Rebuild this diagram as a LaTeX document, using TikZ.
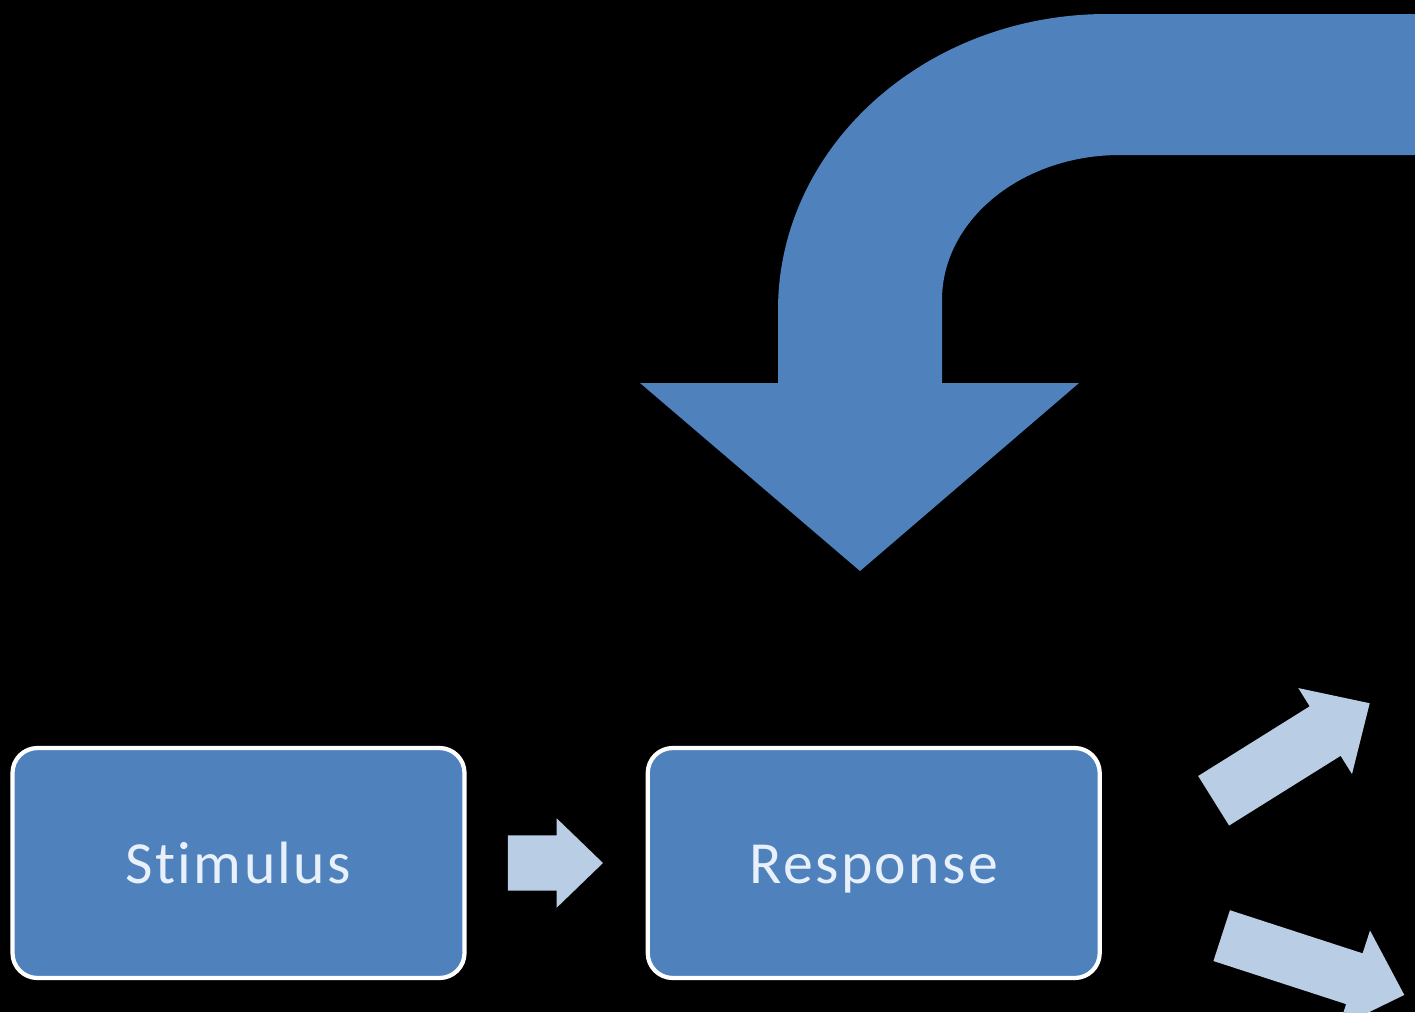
\documentclass[tikz,border=0pt]{standalone}
\usepackage{fontspec}
\usepackage{xcolor}
\usepackage{tikz}
\usetikzlibrary{calc,positioning,shapes.arrows}
\newfontfamily\boxfont{Carlito}[LetterSpace=4, Ligatures=NoCommon]
\definecolor{BoxBlue}{RGB}{79, 129, 189}
\definecolor{ArrowLight}{RGB}{185, 205, 229}
\definecolor{TextLight}{RGB}{232, 240, 250}

\tikzset{
    stagebox/.style={draw=white, line width=1.2pt, fill=BoxBlue, rounded corners=0.25cm,
        minimum width=4.52cm, minimum height=2.3cm, text=TextLight,
        text height=0.4cm, text depth=0cm,
        font=\boxfont\fontsize{17}{20}\selectfont},
    blockarrow/.style={single arrow, fill=ArrowLight, draw=none, inner xsep=0pt,
        single arrow head extend=#1, single arrow tip angle=88}
}

\begin{document}
\begin{tikzpicture}
        % Background
        \fill[black] (0,0) rectangle (14.15,10.12);
        \useasboundingbox (0,0) rectangle (14.15,10.12);
        \clip (0,0) rectangle (14.15,10.12);

        % Boxes
        \node[stagebox] (stim) at (2.385,1.49) {Stimulus};
        \node[stagebox, right=1.79cm of stim] (resp) {Response};

        % Small arrows
        \node[blockarrow=0.17cm, inner ysep=0.27cm, minimum height=0.95cm]
            (stimtoresp) at ($(stim.east)!0.5!(resp.west)+(-0.15,0)$) {};
        \node[blockarrow=0.215cm, inner ysep=0.285cm, minimum height=1.84cm, rotate=32]
            (outup) at ($(resp.east)+(1.77,1.03)$) {};
        \node[blockarrow=0.24cm, inner ysep=0.26cm, minimum height=1.92cm, rotate=-18]
            (outdown) at ($(resp.east)+(1.98,-0.98)$) {};

        % Feedback arrow
        \fill[BoxBlue] (14.5,9.98) -- (11.07,9.98)
            arc[start angle=90, end angle=180, x radius=3.29, y radius=2.96]
            -- (7.78,6.29) -- (6.40,6.29) -- (8.60,4.41) -- (10.79,6.29) -- (9.42,6.29)
            -- (9.42,7.12)
            arc[start angle=180, end angle=90, x radius=1.78, y radius=1.45]
            -- (14.5,8.57) -- cycle;
    \end{tikzpicture}
\end{document}
